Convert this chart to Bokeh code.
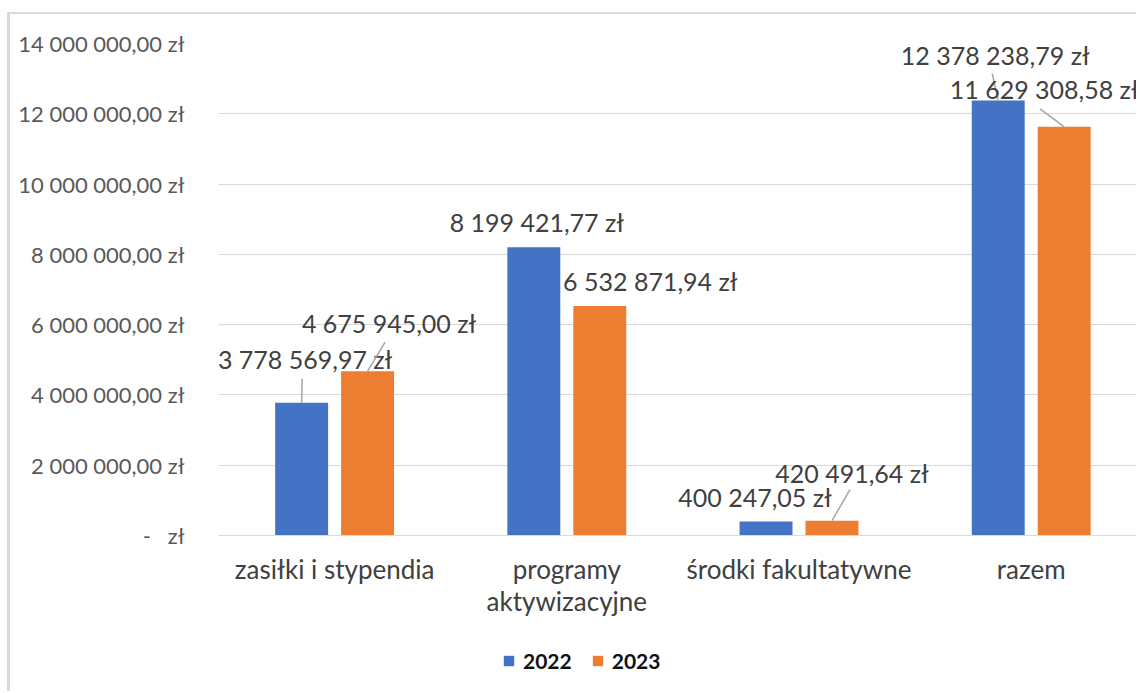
from bokeh.plotting import figure
from bokeh.models import (ColumnDataSource, FixedTicker, Legend, LegendItem, Label,
                          Range1d)
from bokeh.core.properties import value
from bokeh.embed import file_html
from bokeh.resources import INLINE

# ---------------- data ----------------
categories = ["zasiłki i stypendia", "programy\naktywizacyjne", "środki fakultatywne", "razem"]
series = ["2022", "2023"]
values_2022 = [3778569.97, 8199421.77, 400247.05, 12378238.79]
values_2023 = [4675945.00, 6532871.94, 420491.64, 11629308.58]
labels_2022 = ["3 778 569,97 zł", "8 199 421,77 zł", "400 247,05 zł", "12 378 238,79 zł"]
labels_2023 = ["4 675 945,00 zł", "6 532 871,94 zł", "420 491,64 zł", "11 629 308,58 zł"]
y_ticks = [0, 2000000, 4000000, 6000000, 8000000, 10000000, 12000000, 14000000]
y_tick_labels = ["-\u00a0\u00a0\u00a0zł", "2 000 000,00 zł", "4 000 000,00 zł", "6 000 000,00 zł",
                 "8 000 000,00 zł", "10 000 000,00 zł", "12 000 000,00 zł", "14 000 000,00 zł"]
title_text = "w latach 2022 i 2021."

# ---------------- layout / style ----------------
W, H = 1129, 679
MB_L, MB_T, MB_B, MB_R = 208, 29, 0, 0
FRAME_W = W - MB_L - MB_R
FRAME_H = H - MB_T - MB_B
PLOT_H = 492                     # px between 0 and the top gridline
X_END = FRAME_W / 232.2
Y_END = 14000000
PX_X = FRAME_W / X_END           # px per category unit
PX_Y = PLOT_H / Y_END            # px per value unit
Y_START = -(FRAME_H - PLOT_H) / PX_Y

BAR_W = 0.228
BAR_OFF = 0.142
colors = ["#4472C4", "#ED7D31"]
FONT = "Lato"

# label offsets (px) relative to the top-centre of each bar
lab_off_2022 = [(3.5, -44), (3, -25), (-11, -24), (-3, -45)]
lab_off_2023 = [(21.5, -48), (50.5, -25), (20, -48), (-20, -38)]
# leader line start (px) relative to top-centre of bar; None = no leader
lead_2022 = [(0.5, -24), None, None, (-6, -27)]
lead_2023 = [(17.5, -29), None, (18, -31), (-24, -18)]

p = figure(width=W, height=H, output_backend="svg", toolbar_location=None,
           x_range=Range1d(0, X_END), y_range=Range1d(Y_START, Y_END),
           min_border_left=MB_L, min_border_right=MB_R,
           min_border_top=MB_T, min_border_bottom=MB_B)
p.outline_line_color = None
p.background_fill_color = "white"
p.border_fill_color = "white"
p.styles = {"border-left": "3px solid #d9d9d9", "border-top": "2px solid #d9d9d9",
            "margin-left": "7px", "margin-top": "12px"}

xc = [i + 0.5 for i in range(len(categories))]
renderers = []
for vals, labs, loff, lead, col, sgn in [
        (values_2022, labels_2022, lab_off_2022, lead_2022, colors[0], -1),
        (values_2023, labels_2023, lab_off_2023, lead_2023, colors[1], 1)]:
    bx = [c + sgn * BAR_OFF for c in xc]
    src = ColumnDataSource(dict(x=bx, top=vals, lab=labs,
                                xo=[o[0] for o in loff], yo=[o[1] for o in loff]))
    r = p.vbar(x="x", top="top", width=BAR_W, bottom=0, source=src,
               fill_color=col, line_color=None)
    renderers.append(r)
    # leader lines
    x0, y0, x1, y1 = [], [], [], []
    for xb, v, ld in zip(bx, vals, lead):
        if ld is None:
            continue
        x0.append(xb + ld[0] / PX_X)
        y0.append(v - ld[1] / PX_Y)
        x1.append(xb)
        y1.append(v)
    p.segment(x0=x0, y0=y0, x1=x1, y1=y1, line_color="#a6a6a6", line_width=1.5)
    p.text(x="x", y="top", text="lab", x_offset="xo", y_offset="yo", source=src,
           text_align="center", text_baseline="middle",
           text_font=value(FONT), text_font_size="25px", text_color="#404040")

# y axis
ya = p.yaxis[0]
ya.ticker = FixedTicker(ticks=y_ticks)
ya.major_label_overrides = {t: l for t, l in zip(y_ticks, y_tick_labels)}
ya.axis_line_color = None
ya.major_tick_line_color = None
ya.minor_tick_line_color = None
ya.major_label_standoff = 28
ya.major_label_text_font = FONT
ya.major_label_text_font_size = "22px"
ya.major_label_text_color = "#595959"

# x axis (fixed at zero so that the legend area stays inside the frame)
xa = p.xaxis[0]
xa.fixed_location = 0
xa.ticker = FixedTicker(ticks=xc)
xa.major_label_overrides = {t: c for t, c in zip(xc, categories)}
xa.axis_line_color = "#d9d9d9"
xa.major_tick_line_color = None
xa.minor_tick_line_color = None
xa.major_label_standoff = 11
xa.major_label_text_font = FONT
xa.major_label_text_font_size = "26px"
xa.major_label_text_color = "#404040"
xa.major_label_text_line_height = 1.0

p.xgrid.grid_line_color = None
p.ygrid.grid_line_color = "#d9d9d9"
p.ygrid.ticker = FixedTicker(ticks=y_ticks)

legend = Legend(items=[LegendItem(label=s, renderers=[r]) for s, r in zip(series, renderers)],
                orientation="horizontal", location=(284, 20),
                glyph_width=13, glyph_height=13, label_standoff=8, spacing=19,
                padding=0, margin=0, border_line_color=None, background_fill_alpha=0,
                label_text_font=FONT, label_text_font_size="21px",
                label_text_font_style="bold", label_text_color="#111111")
p.add_layout(legend)

title = Label(x=359, y=FRAME_H + MB_T - 2, x_units="screen", y_units="screen",
              text=title_text, text_align="center", text_baseline="bottom",
              text_font=FONT, text_font_size="22px", text_font_style="bold",
              text_color="#000000")
p.add_layout(title)

open("out.html", "w").write(file_html(p, INLINE))
